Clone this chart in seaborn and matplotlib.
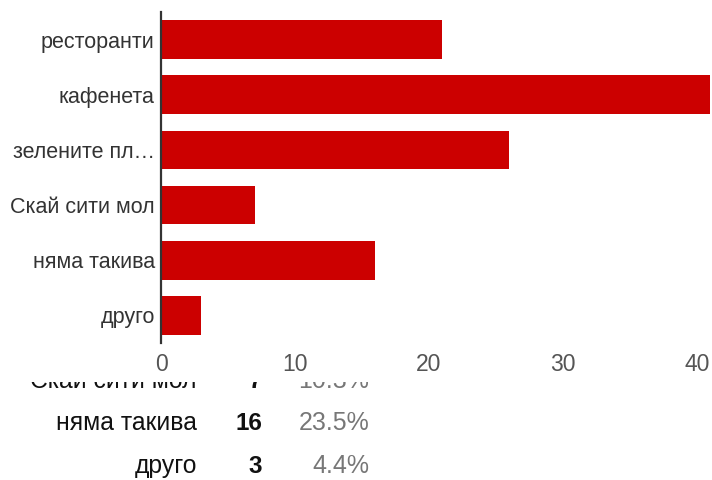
import seaborn as sns
import numpy as np
import pandas as pd
import matplotlib.pyplot as plt
from matplotlib.patches import Rectangle

categories = ["ресторанти", "кафенета", "зелените пл…", "Скай сити мол", "няма такива", "друго"]
full_names = ["ресторанти", "кафенета", "зелените площи", "Скай сити мол", "няма такива", "друго"]
counts = [21, 41, 26, 7, 16, 3]
respondents = 68
xticks = [0, 10, 20, 30, 40]

df = pd.DataFrame({"option": categories, "count": counts})

sns.set_style("white")
plt.rcParams['font.family'] = ['Liberation Sans', 'DejaVu Sans']

fig = plt.figure(figsize=(7.12, 4.80), dpi=100)
ax = fig.add_axes([161 / 712, 1 - 343 / 480, 551 / 712, 331 / 480])

sns.barplot(data=df, x="count", y="option", orient="h", color="#cc0000",
            saturation=1, width=0.7, linewidth=0, ax=ax)

ax.set_xlim(0, 41.12)
ax.set_xticks(xticks)
ax.set_xlabel("")
ax.set_ylabel("")
for s in ["top", "right", "bottom"]:
    ax.spines[s].set_visible(False)
ax.spines["left"].set_color("#333333")
ax.spines["left"].set_linewidth(1.6)
ax.tick_params(axis="x", length=0, pad=7.5, labelsize=16.5, labelcolor="#555555")
ax.tick_params(axis="y", length=0, pad=4.5, labelsize=15.5, labelcolor="#333333")

# the summary table behind the chart (top row partly hidden)
rows = [3, 4, 5]
baselines = [388, 430, 473]
for i, yb in zip(rows, baselines):
    y = 1 - yb / 480
    fig.text(197 / 712, y, full_names[i], ha="right", va="baseline",
             fontsize=17.8, color="#111111", zorder=-2)
    fig.text(262 / 712, y, str(counts[i]), ha="right", va="baseline",
             fontsize=17.5, fontweight="bold", color="#111111", zorder=-2)
    fig.text(369 / 712, y, "%.1f%%" % (100 * counts[i] / respondents), ha="right",
             va="baseline", fontsize=18, color="#777777", zorder=-2)

fig.patches.append(Rectangle((0, 1 - 382 / 480), 1, 382 / 480, transform=fig.transFigure,
                             facecolor="white", edgecolor="none", zorder=-1))

fig.savefig("out.png", dpi=100)
